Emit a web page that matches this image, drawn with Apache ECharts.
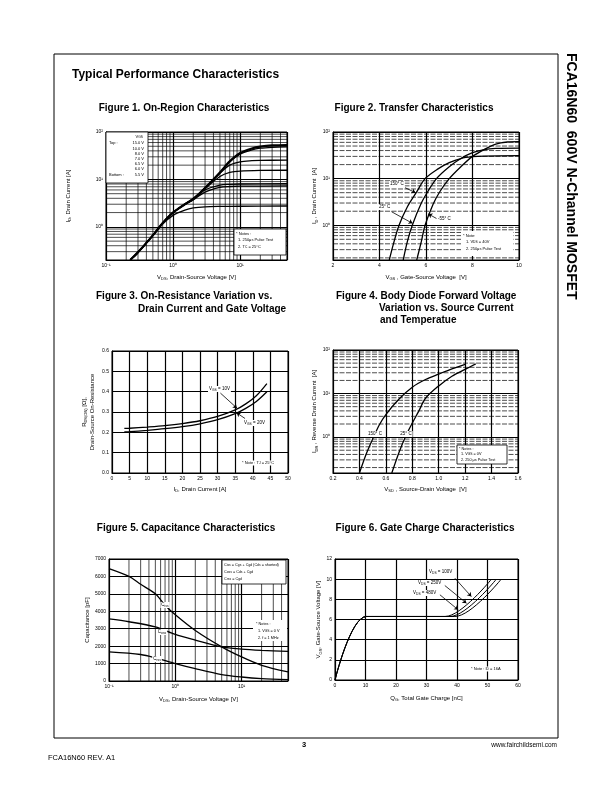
<!DOCTYPE html>
<html>
<head>
<meta charset="utf-8">
<script src="https://cdn.jsdelivr.net/npm/echarts@6/dist/echarts.min.js"></script>
<style>
  html, body { margin: 0; padding: 0; background: #fff; }
  #page { width: 612px; height: 792px; }
</style>
</head>
<body>
<div id="page"></div>
<script>
// ---- Figure 1: On-Region (log-log), I_D vs V_DS for each V_GS ----
const f1Vgs15 = [[0.23,0.2],[0.3,0.29],[0.5,0.66],[0.7,1.2],[1,2],[1.5,3],[2,3.9],[3,6.6],[5,14],[7,24],[10,36],[15,45],[20,49],[30,52],[50,53]];
const f1Vgs10 = [[0.23,0.2],[0.3,0.29],[0.5,0.66],[0.7,1.2],[1,2],[1.5,3],[2,3.9],[3,6.6],[5,14],[7,23.5],[10,34],[15,42],[20,45.5],[30,47.5],[50,48.5]];
const f1Vgs8 = [[0.23,0.2],[0.3,0.29],[0.5,0.66],[0.7,1.2],[1,2],[1.5,3],[2,3.9],[3,6.6],[5,13.5],[7,20],[10,23.5],[15,24.8],[20,25.2],[50,25.5]];
const f1Vgs7 = [[0.23,0.2],[0.3,0.29],[0.5,0.66],[0.7,1.2],[1,2],[1.5,3],[2,3.9],[3,6.4],[5,11.5],[7,14],[10,15],[20,15.5],[50,15.6]];
const f1Vgs65 = [[0.23,0.2],[0.3,0.29],[0.5,0.66],[0.7,1.2],[1,2],[1.5,3],[2,3.8],[3,6],[5,7.6],[7,7.9],[10,8],[50,8.1]];
const f1Vgs6 = [[0.23,0.2],[0.3,0.29],[0.5,0.66],[0.7,1.2],[1,2],[1.5,2.95],[2,3.7],[3,5.4],[5,6.8],[7,7.1],[10,7.2],[50,7.3]];
const f1Vgs55 = [[0.23,0.2],[0.3,0.29],[0.5,0.66],[0.7,1.15],[1,1.75],[1.5,2.25],[2,2.5],[3,2.65],[5,2.7],[10,2.72],[50,2.75]];
const f1VgsLabels = ['15.0 V','10.0 V','8.0 V','7.0 V','6.5 V','6.0 V','5.5 V'];

// ---- Figure 2: Transfer ----
const f2T150 = [[4.42,0.18],[4.6,0.4],[4.84,1],[5.2,2.5],[5.6,5.2],[5.96,10],[6.5,16],[7,22],[7.5,27],[8,29.5],[8.5,30.5],[10,31]];
const f2T25 = [[5.02,0.18],[5.2,0.45],[5.41,1],[5.8,3],[6.1,5.5],[6.45,10],[7,18],[7.5,27],[8,36],[8.5,42],[9,44.5],[10,45]];
const f2Tm55 = [[5.6,0.18],[5.8,0.45],[5.96,1],[6.3,2.8],[6.6,5.3],[7,10],[7.5,18],[8,30],[8.5,42],[9,55],[9.5,61],[10,62]];

// ---- Figure 3: On-resistance ----
const f3Vgs10 = [[3.5,0.219],[5,0.22],[10,0.226],[15,0.233],[20,0.243],[25,0.257],[30,0.278],[35,0.31],[38,0.34],[41,0.38],[44,0.44]];
const f3Vgs20 = [[3.5,0.202],[5,0.203],[10,0.21],[15,0.218],[20,0.228],[25,0.242],[30,0.262],[35,0.292],[38,0.318],[41,0.352],[44,0.40]];

// ---- Figure 4: Body diode ----
const f4T150 = [[0.40,0.15],[0.45,0.4],[0.5,0.9],[0.55,1.9],[0.6,3.3],[0.7,7.5],[0.8,14],[0.9,21],[1.0,28],[1.1,37],[1.2,47]];
const f4T25 = [[0.645,0.15],[0.7,0.45],[0.75,1.05],[0.8,2.1],[0.85,4],[0.9,7.8],[1.0,15],[1.1,25],[1.2,36],[1.28,48]];

// ---- Figure 5: Capacitance ----
const f5Ciss = [[0.1,6450],[0.2,6000],[0.3,5550],[0.5,5000],[0.7,4350],[1,3800],[2,2900],[5,1960],[10,1380],[20,900],[50,520]];
const f5Coss = [[0.1,3560],[0.2,3400],[0.5,3100],[1,2670],[2,2350],[5,1960],[10,1830],[20,1760],[50,1700]];
const f5Crss = [[0.1,1670],[0.3,1520],[0.5,1330],[1,1000],[2,710],[5,370],[10,230],[20,140],[50,80]];

// ---- Figure 6: Gate charge ----
const f6Vds100 = [[0,0],[10.3,6.3],[36.1,6.3],[51.3,10]];
const f6Vds250 = [[0,0],[10.3,6.3],[37.7,6.3],[52.9,10]];
const f6Vds480 = [[0,0],[10.3,6.3],[39.3,6.3],[54.5,10]];

const FONT = 'Liberation Sans, Arial, Helvetica, sans-serif';
const SUP = { '-': '\u207B', '0': '\u2070', '1': '\u00B9', '2': '\u00B2', '3': '\u00B3' };

function pow10(v) {
  const e = Math.log10(v), r = Math.round(e);
  if (Math.abs(e - r) > 1e-6) return '';
  return '10' + String(r).split('').map(c => SUP[c]).join('');
}

// minor grid positions of a log axis (2..9 per decade)
function logMinor(lo, hi) {
  const out = [];
  for (let d = Math.floor(Math.log10(lo)); d <= Math.ceil(Math.log10(hi)); d++) {
    for (let k = 2; k <= 9; k++) {
      const v = k * Math.pow(10, d);
      if (v > lo * 1.0001 && v < hi * 0.9999) out.push(+v.toPrecision(3));
    }
  }
  return out;
}

const subRich = {
  s: { fontSize: 4, fontFamily: FONT, verticalAlign: 'bottom', color: '#000' }
};

function axis(idx, o) {
  return Object.assign({
    gridIndex: idx,
    nameLocation: 'middle',
    nameTextStyle: { fontSize: 6, fontFamily: FONT, color: '#000', lineHeight: 8, rich: subRich },
    axisLine: { show: true, lineStyle: { color: '#000', width: 1 } },
    axisTick: { show: false },
    axisLabel: { fontSize: 5, fontFamily: FONT, color: '#000', margin: 3 },
    splitLine: { show: true, lineStyle: { color: '#000', width: 1.2 } }
  }, o);
}

// thin minor grid lines drawn as broken line series (one segment per value)
function minorLines(idx, xs, ys, xr, yr, dashed) {
  const d = [];
  xs.forEach(v => { d.push([v, yr[0]], [v, yr[1]], [v, '-']); });
  ys.forEach(v => { d.push([xr[0], v], [xr[1], v], [xr[1], '-']); });
  return {
    type: 'line', xAxisIndex: idx, yAxisIndex: idx, data: d, silent: true, z: 1,
    showSymbol: false, connectNulls: false,
    lineStyle: { color: '#000', width: 0.7, type: dashed ? [5, 1.5] : 'solid' }
  };
}

function curve(idx, data, w) {
  return {
    type: 'line', xAxisIndex: idx, yAxisIndex: idx, data: data,
    showSymbol: false, smooth: 0.3, silent: true, z: 3,
    lineStyle: { color: '#000', width: w || 1.3 }
  };
}

function arrows(idx, pairs) {
  return {
    type: 'line', xAxisIndex: idx, yAxisIndex: idx, data: [], silent: true,
    markLine: {
      silent: true, symbol: ['none', 'arrow'], symbolSize: 4, animation: false,
      label: { show: false },
      lineStyle: { color: '#000', width: 0.8, type: 'solid' },
      data: pairs.map(p => [{ coord: p[0] }, { coord: p[1] }])
    }
  };
}

function txt(x, y, text, o) {
  o = o || {};
  return {
    type: 'text', x: x, y: y, z: 20, rotation: o.rotation || 0,
    style: {
      text: text, fill: '#000',
      fontSize: o.size || 4.5, fontFamily: FONT, fontWeight: o.bold ? 'bold' : 'normal',
      align: o.align || 'left', verticalAlign: 'middle',
      backgroundColor: o.bg, padding: o.bg ? [0.5, 1] : 0,
      rich: { s: { fontSize: 3.3, fontFamily: FONT, verticalAlign: 'bottom' } }
    }
  };
}

function box(x, y, w, h, stroke) {
  return {
    type: 'rect', z: 15, shape: { x: x, y: y, width: w, height: h },
    style: { fill: '#fff', stroke: stroke ? '#000' : null, lineWidth: 0.8 }
  };
}

const fmt1 = v => v.toFixed(1);
const lab = (extra) => Object.assign({ fontSize: 5, fontFamily: FONT, color: '#000', margin: 3 }, extra);

const chart = echarts.init(document.getElementById('page'), null, { renderer: 'canvas' });

const option = {
  animation: false,
  backgroundColor: '#fff',
  grid: [
    { left: 106, top: 132, width: 181, height: 128 },
    { left: 333, top: 132, width: 186, height: 128 },
    { left: 112, top: 351, width: 176, height: 122 },
    { left: 333, top: 350, width: 185, height: 123 },
    { left: 109, top: 559, width: 179, height: 122 },
    { left: 335, top: 559, width: 183, height: 121 }
  ].map(g => Object.assign({ show: true, borderColor: '#000', borderWidth: 1 }, g)),
  xAxis: [
    axis(0, { type: 'log', min: 0.1, max: 50, name: 'V{s|DS}, Drain-Source Voltage [V]', nameGap: 13,
      axisLabel: lab({ formatter: pow10, showMaxLabel: false }) }),
    axis(1, { type: 'value', min: 2, max: 10, interval: 2, name: 'V{s|GS} , Gate-Source Voltage  [V]', nameGap: 13 }),
    axis(2, { type: 'value', min: 0, max: 50, interval: 5, name: 'I{s|D}, Drain Current [A]', nameGap: 12 }),
    axis(3, { type: 'value', min: 0.2, max: 1.6, interval: 0.2, name: 'V{s|SD} , Source-Drain Voltage  [V]', nameGap: 12,
      axisLabel: lab({ formatter: fmt1 }) }),
    axis(4, { type: 'log', min: 0.1, max: 50, name: 'V{s|DS}, Drain-Source Voltage [V]', nameGap: 14,
      axisLabel: lab({ formatter: pow10, showMaxLabel: false }) }),
    axis(5, { type: 'value', min: 0, max: 60, interval: 10, name: 'Q{s|G}, Total Gate Charge [nC]', nameGap: 14 })
  ],
  yAxis: [
    axis(0, { type: 'log', min: 0.2, max: 100, name: 'I{s|D}, Drain Current [A]', nameGap: 34,
      axisLabel: lab({ formatter: pow10, showMinLabel: false }) }),
    axis(1, { type: 'log', min: 0.18, max: 100, name: 'I{s|D} , Drain Current  [A]', nameGap: 14,
      axisLabel: lab({ formatter: pow10, showMinLabel: false }) }),
    axis(2, { type: 'value', min: 0, max: 0.6, interval: 0.1, name: 'R{s|DS(ON)} [\u03A9],\nDrain-Source On-Resistance', nameGap: 16,
      axisLabel: lab({ formatter: fmt1 }) }),
    axis(3, { type: 'log', min: 0.15, max: 100, name: 'I{s|DR} , Reverse Drain Current  [A]', nameGap: 14,
      axisLabel: lab({ formatter: pow10, showMinLabel: false }) }),
    axis(4, { type: 'value', min: 0, max: 7000, interval: 1000, name: 'Capacitance [pF]', nameGap: 18,
      axisLabel: lab({ formatter: v => String(v) }) }),
    axis(5, { type: 'value', min: 0, max: 12, interval: 2, name: 'V{s|GS}, Gate-Source Voltage [V]', nameGap: 12 })
  ],
  series: [
    minorLines(0, logMinor(0.1, 50), logMinor(0.2, 100), [0.1, 50], [0.2, 100]),
    minorLines(1, [], logMinor(0.18, 100), [2, 10], [0.18, 100], true),
    minorLines(3, [], logMinor(0.15, 100), [0.2, 1.6], [0.15, 100], true),
    minorLines(4, logMinor(0.1, 50), [], [0.1, 50], [0, 7000]),

    curve(0, f1Vgs15, 2.2), curve(0, f1Vgs10), curve(0, f1Vgs8), curve(0, f1Vgs7),
    curve(0, f1Vgs65), curve(0, f1Vgs6), curve(0, f1Vgs55),

    curve(1, f2T150), curve(1, f2T25), curve(1, f2Tm55),
    arrows(1, [[[5.1, 6.4], [5.55, 5]], [[4.52, 1.95], [5.42, 1.1]], [[6.45, 1.4], [6.1, 1.75]]]),

    curve(2, f3Vgs10), curve(2, f3Vgs20),
    arrows(2, [[[30.8, 0.393], [35.5, 0.319]], [[37.8, 0.268], [35.4, 0.296]]]),

    curve(3, f4T150), curve(3, f4T25),

    curve(4, f5Ciss), curve(4, f5Coss), curve(4, f5Crss),

    curve(5, f6Vds100, 1), curve(5, f6Vds250, 1), curve(5, f6Vds480, 1),
    arrows(5, [[[39.3, 10.1], [44.7, 8.28]], [[36, 9.37], [43.1, 7.62]], [[34.4, 8.45], [40.4, 6.96]]])
  ],
  graphic: [
    // page frame and headings
    { type: 'rect', z: 1, shape: { x: 54, y: 54, width: 504, height: 684 },
      style: { fill: null, stroke: '#000', lineWidth: 1 } },
    txt(72, 75, 'Typical Performance Characteristics', { size: 12, bold: true }),
    txt(571, 53, 'FCA16N60  600V N-Channel MOSFET', { size: 14, bold: true, rotation: -Math.PI / 2 }),
    txt(48, 758, 'FCA16N60 REV. A1', { size: 7.5 }),
    txt(304, 745, '3', { size: 7.5, bold: true, align: 'center' }),
    txt(557, 745, 'www.fairchildsemi.com', { size: 6.5, align: 'right' }),

    txt(184, 108, 'Figure 1. On-Region Characteristics', { size: 10, bold: true, align: 'center' }),
    txt(414, 108, 'Figure 2. Transfer Characteristics', { size: 10, bold: true, align: 'center' }),
    txt(96, 296, 'Figure 3. On-Resistance Variation vs.', { size: 10, bold: true }),
    txt(138, 309, 'Drain Current and Gate Voltage', { size: 10, bold: true }),
    txt(336, 296, 'Figure 4. Body Diode Forward Voltage', { size: 10, bold: true }),
    txt(379, 308, 'Variation vs. Source Current', { size: 10, bold: true }),
    txt(380, 320, 'and Temperatue', { size: 10, bold: true }),
    txt(186, 528, 'Figure 5. Capacitance Characteristics', { size: 10, bold: true, align: 'center' }),
    txt(425, 528, 'Figure 6. Gate Charge Characteristics', { size: 10, bold: true, align: 'center' }),

    // Fig 1 V_GS table and notes
    box(106, 132, 42, 51, true),
    txt(143, 137, 'V{s|GS}', { align: 'right', size: 4 }),
    txt(109, 143, 'Top :', { size: 4 }),
    txt(144, 143, f1VgsLabels[0], { align: 'right', size: 4 }),
    txt(144, 148.5, f1VgsLabels[1], { align: 'right', size: 4 }),
    txt(144, 154, f1VgsLabels[2], { align: 'right', size: 4 }),
    txt(144, 159, f1VgsLabels[3], { align: 'right', size: 4 }),
    txt(144, 164, f1VgsLabels[4], { align: 'right', size: 4 }),
    txt(144, 169, f1VgsLabels[5], { align: 'right', size: 4 }),
    txt(109, 174.5, 'Bottom :', { size: 4 }),
    txt(144, 174.5, f1VgsLabels[6], { align: 'right', size: 4 }),
    box(234, 229, 52, 26, true),
    txt(236, 233.5, '* Notes :', { size: 4 }),
    txt(238, 240, '1. 250\u03BCs Pulse Test', { size: 4 }),
    txt(238, 247, '2. T{s|C} = 25\u00B0C', { size: 4 }),

    // Fig 2 labels and notes
    txt(389, 184, '150\u00B0 C', { size: 4.5, bg: '#fff' }),
    txt(378, 207, '25\u00B0 C', { size: 4.5, bg: '#fff' }),
    txt(437, 219, '-55\u00B0 C', { size: 4.5, bg: '#fff' }),
    box(461, 231, 52, 25, false),
    txt(463, 236, '* Note:', { size: 4 }),
    txt(466, 242, '1. V{s|DS} = 40V', { size: 4 }),
    txt(466, 249, '2. 250\u03BCs Pulse Test', { size: 4 }),

    // Fig 3 labels
    txt(208, 389, 'V{s|GS} = 10V', { size: 4.5, bg: '#fff' }),
    txt(243, 423, 'V{s|GS} = 20V', { size: 4.5, bg: '#fff' }),
    txt(241, 463, '* Note : T{s|J} = 25\u00B0C', { size: 4, bg: '#fff' }),

    // Fig 4 labels and notes
    txt(375, 434, '150\u00B0 C', { size: 4.5, bg: '#fff', align: 'center' }),
    txt(406, 434, '25\u00B0 C', { size: 4.5, bg: '#fff', align: 'center' }),
    box(457, 445, 50, 19, true),
    txt(459, 448.5, '* Notes :', { size: 3.8 }),
    txt(461, 454, '1. V{s|GS} = 0V', { size: 3.8 }),
    txt(461, 460, '2. 250 \u03BCs Pulse Test', { size: 3.8 }),

    // Fig 5 labels, legend and notes
    txt(165, 605, 'C{s|iss}', { size: 4.5, bg: '#fff', align: 'center' }),
    txt(162, 632, 'C{s|oss}', { size: 4.5, bg: '#fff', align: 'center' }),
    txt(157, 659, 'C{s|rss}', { size: 4.5, bg: '#fff', align: 'center' }),
    box(222, 560, 64, 24, true),
    txt(224, 564.5, 'C{s|iss} = C{s|gs} + C{s|gd} (C{s|ds} = shorted)', { size: 3.8 }),
    txt(224, 571.5, 'C{s|oss} = C{s|ds} + C{s|gd}', { size: 3.8 }),
    txt(224, 578.5, 'C{s|rss} = C{s|gd}', { size: 3.8 }),
    box(253, 620, 34, 21, false),
    txt(256, 624, '* Notes :', { size: 3.8 }),
    txt(258, 631, '1. V{s|GS} = 0 V', { size: 3.8 }),
    txt(258, 637.5, '2. f = 1 MHz', { size: 3.8 }),

    // Fig 6 labels
    txt(428, 572, 'V{s|DS} = 100V', { size: 4.5, bg: '#fff' }),
    txt(417, 583, 'V{s|DS} = 250V', { size: 4.5, bg: '#fff' }),
    txt(412, 593, 'V{s|DS} = 480V', { size: 4.5, bg: '#fff' }),
    txt(470, 669, '* Note : I{s|D} = 16A', { size: 4, bg: '#fff' })
  ]
};

chart.setOption(option);
</script>
</body>
</html>
